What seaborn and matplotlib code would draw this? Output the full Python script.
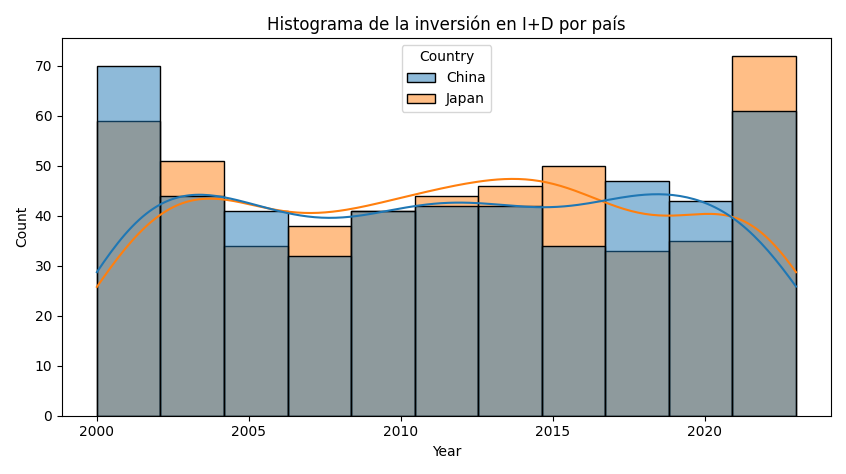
import numpy as np
import pandas as pd
import seaborn as sns
import matplotlib
matplotlib.use("Agg")
import matplotlib.pyplot as plt

years = list(range(2000, 2024))
china_per_year = [23, 23, 24, 22, 22, 20, 21, 16, 16, 20, 21, 21, 21, 21, 21, 17, 17, 23, 24, 21, 22, 20, 20, 21]
japan_per_year = [20, 20, 19, 25, 26, 17, 17, 19, 19, 20, 21, 22, 22, 23, 23, 25, 25, 16, 17, 17, 18, 24, 24, 24]

df = pd.DataFrame({
    "Year": np.concatenate([np.repeat(years, china_per_year), np.repeat(years, japan_per_year)]),
    "Country": ["China"] * sum(china_per_year) + ["Japan"] * sum(japan_per_year),
})

fig, ax = plt.subplots(figsize=(8.46, 4.74), dpi=100)
sns.histplot(data=df, x="Year", hue="Country", kde=True, bins=11, ax=ax)
sns.move_legend(ax, "upper center")
ax.set_title("Histograma de la inversión en I+D por país")
fig.tight_layout()
fig.savefig("out.png", dpi=100)
